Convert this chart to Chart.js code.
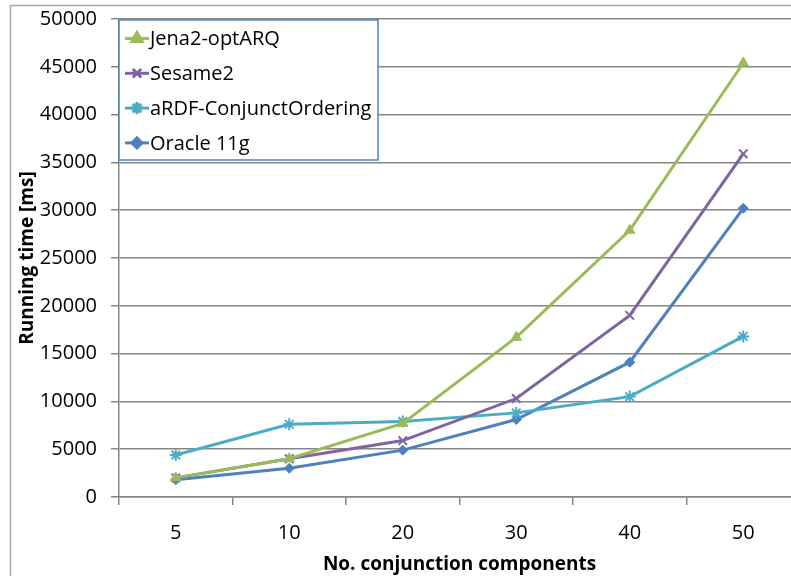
<!DOCTYPE html>
<html>
<head>
<meta charset="utf-8">
<script src="https://cdn.jsdelivr.net/npm/chart.js@4.4.0/dist/chart.umd.min.js"></script>
<style>
  html, body { margin: 0; padding: 0; background: #fff; overflow: hidden; }
  #wrap { position: relative; width: 830px; height: 576px; }
</style>
</head>
<body>
<div id="wrap"><canvas id="chart"></canvas></div>
<script>
// number of conjunction components
var components = ['5', '10', '20', '30', '40', '50'];

// running times in ms
var jena2OptARQ = [2000, 4000, 7700, 16700, 27900, 45400];
var sesame2 = [2000, 4000, 5900, 10300, 19000, 35900];
var ardfConjunctOrdering = [4400, 7600, 7900, 8800, 10500, 16800];
var oracle11g = [1800, 3000, 4900, 8100, 14100, 30200];

var FONT = 'Open Sans';
var GRID = '#868686';

// frame round the whole chart
var framePlugin = {
  id: 'frame',
  beforeDraw: function (chart) {
    var ctx = chart.ctx;
    ctx.save();
    ctx.strokeStyle = '#a6a6a6';
    ctx.lineWidth = 1.5;
    ctx.strokeRect(10.5, 5.5, chart.width + 20, chart.height + 20);
    ctx.restore();
  }
};

// boxed legend drawn inside the plot, top left
var boxLegend = {
  id: 'boxLegend',
  afterDraw: function (chart) {
    var ctx = chart.ctx;
    var x0 = 119, y0 = 20, w = 259, h = 140;
    ctx.save();
    ctx.fillStyle = '#fff';
    ctx.fillRect(x0, y0, w, h);
    ctx.strokeStyle = '#4f81bd';
    ctx.lineWidth = 1.5;
    ctx.strokeRect(x0, y0, w, h);
    chart.data.datasets.forEach(function (ds, i) {
      var y = 38.5 + i * 34.8;
      ctx.strokeStyle = ds.borderColor;
      ctx.lineWidth = 3;
      ctx.beginPath();
      ctx.moveTo(125, y);
      ctx.lineTo(149, y);
      ctx.stroke();
      ctx.fillStyle = ds.borderColor;
      Chart.helpers.drawPoint(ctx, {
        pointStyle: ds.pointStyle,
        radius: ds.pointRadius,
        borderWidth: ds.pointBorderWidth || 1
      }, 137, y);
      ctx.fillStyle = '#000';
      ctx.font = '20px "' + FONT + '"';
      ctx.textBaseline = 'middle';
      ctx.textAlign = 'left';
      ctx.fillText(ds.label, 150, y + 1);
    });
    ctx.restore();
  }
};

function series(label, data, color, style, radius, bw) {
  return {
    label: label,
    data: data,
    borderColor: color,
    backgroundColor: color,
    borderWidth: 3,
    pointStyle: style,
    pointRadius: radius,
    pointHoverRadius: radius,
    pointBorderWidth: bw,
    pointBorderColor: color,
    pointBackgroundColor: color,
    tension: 0
  };
}

new Chart(document.getElementById('chart'), {
  type: 'line',
  data: {
    labels: components,
    datasets: [
      series('Jena2-optARQ', jena2OptARQ, '#9bbb59', 'triangle', 6, 1),
      series('Sesame2', sesame2, '#8064a2', 'crossRot', 6, 2),
      series('aRDF-ConjunctOrdering', ardfConjunctOrdering, '#4bacc6', 'star', 6, 2),
      series('Oracle 11g', oracle11g, '#4f81bd', 'rectRot', 5, 1)
    ]
  },
  options: {
    responsive: true,
    maintainAspectRatio: false,
    animation: false,
    layout: { padding: { left: 10, top: 0, right: 30, bottom: 0 } },
    plugins: {
      legend: { display: false },
      tooltip: { enabled: false }
    },
    scales: {
      x: {
        offset: true,
        grid: {
          offset: true,
          drawOnChartArea: false,
          drawTicks: true,
          tickLength: 8,
          color: GRID,
          lineWidth: 1.5
        },
        border: { color: GRID, width: 1.5 },
        ticks: {
          padding: 16,
          color: '#000',
          font: { family: FONT, size: 20 },
          maxRotation: 0
        },
        title: {
          display: true,
          text: 'No. conjunction components',
          color: '#000',
          font: { family: FONT, size: 19, weight: 'bold' },
          padding: { top: 0, bottom: 0 }
        },
        afterFit: function (scale) { scale.height = 79; }
      },
      y: {
        min: 0,
        max: 50000,
        grid: {
          color: GRID,
          lineWidth: 1.5,
          tickLength: 8
        },
        border: { color: GRID, width: 1.5 },
        ticks: {
          stepSize: 5000,
          padding: 14,
          color: '#000',
          // short line height keeps the plot top close to the 50000 line
          font: { family: FONT, size: 20, lineHeight: 0.5 },
          callback: function (v) { return String(v); }
        },
        title: {
          display: true,
          text: 'Running time [ms]',
          color: '#000',
          font: { family: FONT, size: 19, weight: 'bold' },
          padding: { top: 6, bottom: 0 }
        },
        afterFit: function (scale) { scale.width = 109; }
      }
    }
  },
  plugins: [framePlugin, boxLegend]
});
</script>
</body>
</html>
